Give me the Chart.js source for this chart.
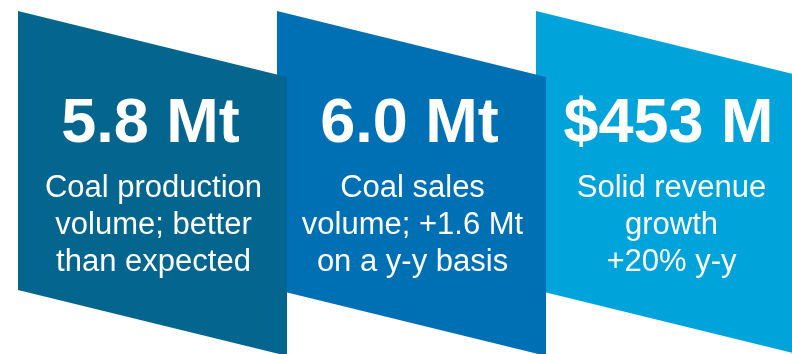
<!DOCTYPE html>
<html>
<head>
<meta charset="utf-8">
<script src="https://cdn.jsdelivr.net/npm/chart.js@4/dist/chart.umd.min.js"></script>
<style>
  html, body { margin: 0; padding: 0; background: #ffffff; }
  #wrap { width: 792px; height: 354px; position: relative; }
</style>
</head>
<body>
<div id="wrap"><canvas id="c" width="792" height="354"></canvas></div>
<script>
// ---- data ----
const categories = ['Coal production', 'Coal sales', 'Revenue'];
const headlines = ['5.8 Mt', '6.0 Mt', '$453 M'];
const descriptionLines = [
  ['Coal production', 'volume; better', 'than expected'],
  ['Coal sales', 'volume; +1.6 Mt', 'on a y-y basis'],
  ['Solid revenue', 'growth', '+20% y-y']
];
const cardValues = [1, 1, 1];
const cardColors = ['#04658f', '#0070b4', '#00a3da'];

// ---- plugin: draw each bar as a slanted card with its text ----
const cardPlugin = {
  id: 'cards',
  beforeDatasetDraw(chart, args) {
    const ctx = chart.ctx;
    const els = args.meta.data;
    ctx.save();
    for (let i = els.length - 1; i >= 0; i--) {
      const el = els[i];
      const p = el.getProps(['x', 'y', 'base', 'width'], true);
      const left = p.x - p.width / 2;
      const right = p.x + p.width / 2;
      const skew = p.width * 0.245;
      ctx.fillStyle = el.options.backgroundColor;
      ctx.beginPath();
      ctx.moveTo(left, p.y);
      ctx.lineTo(right, p.y + skew);
      ctx.lineTo(right, p.base + skew);
      ctx.lineTo(left, p.base);
      ctx.closePath();
      ctx.fill();

      ctx.fillStyle = '#ffffff';
      ctx.textAlign = 'center';
      ctx.textBaseline = 'alphabetic';
      ctx.font = 'bold 63px "Liberation Sans", Arial, sans-serif';
      ctx.fillText(headlines[i], p.x - 2, p.y + 131);
      ctx.font = '31px "Liberation Sans", Arial, sans-serif';
      const lines = descriptionLines[i];
      for (let j = 0; j < lines.length; j++) {
        ctx.fillText(lines[j], p.x + 1, p.y + 186 + j * 37);
      }
    }
    ctx.restore();
    return false;
  }
};

new Chart(document.getElementById('c'), {
  type: 'bar',
  data: {
    labels: categories,
    datasets: [{
      data: cardValues.map((v, i) => ({ x: i, y: v })),
      backgroundColor: cardColors,
      barThickness: 269,
      borderWidth: 0
    }]
  },
  options: {
    responsive: false,
    animation: false,
    events: [],
    layout: { padding: 0 },
    plugins: { legend: { display: false }, tooltip: { enabled: false } },
    scales: {
      x: { type: 'linear', min: -0.5888, max: 2.4691, display: false, offset: false },
      y: { min: -0.2294, max: 1.0394, display: false }
    }
  },
  plugins: [cardPlugin]
});
</script>
</body>
</html>
